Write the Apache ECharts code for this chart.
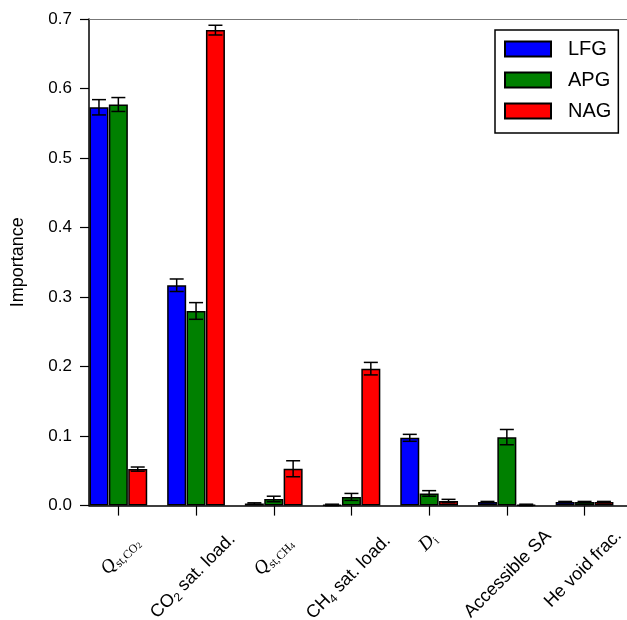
<!DOCTYPE html>
<html><head><meta charset="utf-8">
<script src="https://cdn.jsdelivr.net/npm/echarts@6/dist/echarts.min.js"></script>
<style>html,body{margin:0;padding:0;background:#fff}#c{width:627px;height:620px}</style>
</head><body><div id="c"></div>
<script>
// ---- data ----
const categories = ['Qst,CO2', 'CO2 sat. load.', 'Qst,CH4', 'CH4 sat. load.', 'Di', 'Accessible SA', 'He void frac.'];
const seriesNames = ['LFG', 'APG', 'NAG'];
const lfgValues = [0.573, 0.317, 0.003, 0.001, 0.0975, 0.005, 0.005];
const lfgErrors = [0.011, 0.009, 0.001, 0.001, 0.005, 0.001, 0.001];
const apgValues = [0.577, 0.280, 0.0095, 0.0125, 0.0175, 0.0985, 0.005];
const apgErrors = [0.010, 0.012, 0.004, 0.005, 0.004, 0.011, 0.001];
const nagValues = [0.0525, 0.684, 0.053, 0.197, 0.0065, 0.001, 0.005];
const nagErrors = [0.003, 0.007, 0.0115, 0.009, 0.0025, 0.001, 0.001];
const yMin = 0, yMax = 0.7, yInterval = 0.1;

// ---- presentation ----
const colors = ['#0000ff', '#008000', '#ff0000'];
const labelRich = {
  'Qst,CO2': '{q|Q}{qs|st,CO}{qss|2}',
  'CO2 sat. load.': '{n|CO}{s|2}{n| sat. load.}',
  'Qst,CH4': '{q|Q}{qs|st,CH}{qss|4}',
  'CH4 sat. load.': '{n|CH}{s|4}{n| sat. load.}',
  'Di': '{q|D}{qs|i}',
  'Accessible SA': '{n|Accessible SA}',
  'He void frac.': '{n|He void frac.}'
};
// label box padding [top, right] used to place each rotated label (layout only)
const labelPadTop = [93, 115, 91, 117, 70, 118, 107];
const labelPadRight = [21, 6, 23, 7, 28, 0, 5];
const BAR_W = 19, BAR_GAP = 0.02;

const valueSets = [lfgValues, apgValues, nagValues];
const errorSets = [lfgErrors, apgErrors, nagErrors];

const chart = echarts.init(document.getElementById('c'), null, {renderer: 'canvas'});

const series = [];
seriesNames.forEach((name, k) => {
  series.push({
    name, type: 'bar', xAxisIndex: 0, yAxisIndex: 0,
    barWidth: BAR_W, barGap: (BAR_GAP * 100) + '%',
    itemStyle: {color: colors[k], borderColor: '#000', borderWidth: 1.5},
    data: valueSets[k]
  });
});
seriesNames.forEach((name, k) => {
  series.push({
    name: name + ' err', type: 'custom', xAxisIndex: 0, yAxisIndex: 0, z: 5,
    encode: {x: 0, y: 1},
    data: valueSets[k].map((v, i) => [i, v, errorSets[k][i]]),
    renderItem(params, api) {
      const c = api.value(0), v = api.value(1), e = api.value(2);
      const off = (k - 1) * BAR_W * (1 + BAR_GAP);
      const x = api.coord([c, v])[0] + off;
      const yt = api.coord([c, v + e])[1];
      const yb = api.coord([c, v - e])[1];
      const hw = 7;
      const st = {stroke: '#000', lineWidth: 1.5};
      return {type: 'group', children: [
        {type: 'line', shape: {x1: x, y1: yt, x2: x, y2: yb}, style: st},
        {type: 'line', shape: {x1: x - hw, y1: yt, x2: x + hw, y2: yt}, style: st},
        {type: 'line', shape: {x1: x - hw, y1: yb, x2: x + hw, y2: yb}, style: st}
      ]};
    }
  });
});

chart.setOption({
  animation: false,
  backgroundColor: '#fff',
  textStyle: {fontFamily: 'Liberation Sans'},
  legend: {
    data: seriesNames, orient: 'vertical', left: 495, top: 30,
    padding: [9, 7, 12, 9], itemGap: 11, itemWidth: 46, itemHeight: 15, icon: 'rect',
    borderColor: '#000', borderWidth: 1.5, backgroundColor: '#fff',
    textStyle: {fontSize: 20, color: '#000', padding: [0, 0, 0, 12]}
  },
  grid: [
    {left: 79.5, width: 543.9, top: 19, bottom: 114.4, containLabel: false, outerBoundsMode: 'none'},
    {left: 89, width: 560, top: 19, bottom: 114.4, containLabel: false, outerBoundsMode: 'none'}
  ],
  xAxis: [
    {
      type: 'category', gridIndex: 0,
      data: categories.map((c, i) => ({value: c, textStyle: {padding: [labelPadTop[i], labelPadRight[i], 0, 0]}})),
      axisLine: {show: false},
      axisTick: {show: true, alignWithLabel: true, length: 10, lineStyle: {color: '#000', width: 1.2}},
      axisLabel: {
        interval: 0, rotate: 45, margin: -14,
        color: '#000', fontSize: 18, hideOverlap: false,
        formatter: v => labelRich[v],
        rich: {
          n: {fontSize: 18, lineHeight: 22, fontFamily: 'Liberation Sans', color: '#000'},
          s: {fontSize: 12, lineHeight: 12, verticalAlign: 'bottom', fontFamily: 'Liberation Sans', color: '#000'},
          q: {fontSize: 19, lineHeight: 22, fontFamily: 'Liberation Serif', fontStyle: 'italic', color: '#000'},
          qs: {fontSize: 12, lineHeight: 12, verticalAlign: 'bottom', fontFamily: 'Liberation Serif', color: '#000'},
          qss: {fontSize: 9, lineHeight: 8, verticalAlign: 'bottom', fontFamily: 'Liberation Serif', color: '#000'}
        }
      },
      splitLine: {show: false}
    },
    {
      type: 'value', gridIndex: 1, min: 0, max: 1, position: 'bottom',
      axisLine: {show: true, onZero: false, lineStyle: {color: '#000', width: 1.5}},
      axisTick: {show: false}, axisLabel: {show: false}, splitLine: {show: false}
    },
    {
      type: 'value', gridIndex: 1, min: 0, max: 1, position: 'top',
      axisLine: {show: true, onZero: false, lineStyle: {color: '#777', width: 1}},
      axisTick: {show: false}, axisLabel: {show: false}, splitLine: {show: false}
    }
  ],
  yAxis: [
    {type: 'value', gridIndex: 0, min: yMin, max: yMax, interval: yInterval, show: false},
    {
      type: 'value', gridIndex: 1, min: yMin, max: yMax, interval: yInterval,
      name: 'Importance', nameLocation: 'middle', nameGap: 62,
      nameTextStyle: {fontSize: 18, color: '#000'},
      axisLine: {show: true, lineStyle: {color: '#000', width: 1.5}},
      axisTick: {show: true, length: 9, lineStyle: {color: '#000', width: 1.2}},
      axisLabel: {color: '#000', fontSize: 17, margin: 17, formatter: v => v.toFixed(1)},
      splitLine: {show: false}
    }
  ],
  series
});
</script>
</body></html>
